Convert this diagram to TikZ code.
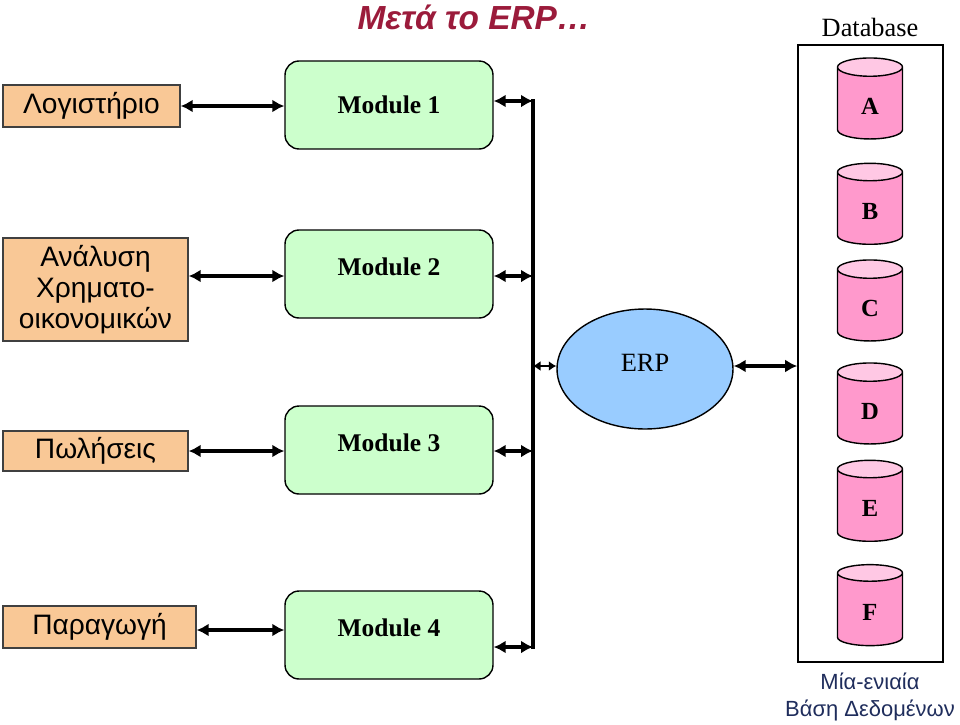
\documentclass[tikz,border=0pt]{standalone}
\usepackage{fontspec}
\setmainfont{Liberation Serif}
\newfontfamily\grk{Liberation Sans}
\usetikzlibrary{arrows.meta, positioning, shapes.geometric}
\definecolor{erptitle}{HTML}{9B1B3B}
\definecolor{erporange}{HTML}{F9C896}
\definecolor{erpgreen}{HTML}{CCFFCC}
\definecolor{erpblue}{HTML}{99CCFF}
\definecolor{erppink}{HTML}{FF99CC}
\definecolor{erplight}{HTML}{FFC8E4}
\definecolor{erpnavy}{HTML}{1F2D5C}

\begin{document}
\begin{tikzpicture}[x=0.02cm, y=-0.02cm,
  dept/.style={draw=black!75, fill=erporange, line width=0.8pt, align=center,
    inner sep=0pt, font=\grk\fontsize{16}{17.5}\selectfont},
  module/.style={draw, fill=erpgreen, rounded corners=0.28cm, line width=0.8pt,
    minimum width=4.16cm, minimum height=1.76cm, font=\bfseries\fontsize{14.5}{17}\selectfont},
  raised/.style={text depth=0.28cm},
  store/.style={cylinder, shape border rotate=90, aspect=0.62, draw, line width=0.8pt,
    minimum width=1.3cm, minimum height=1.62cm, cylinder uses custom fill,
    cylinder body fill=erppink, cylinder end fill=erplight,
    font=\bfseries\fontsize{14}{17}\selectfont},
  link/.style={{Latex[length=2.4mm,width=2.6mm]}-{Latex[length=2.4mm,width=2.6mm]}, line width=1.8pt},
  shortlink/.style={{Latex[length=1.5mm,width=2mm]}-{Latex[length=1.5mm,width=2mm]}, line width=1.4pt}]
  \useasboundingbox (0,0) rectangle (960,724);

  \node[font=\grk\bfseries\itshape\fontsize{19}{22}\selectfont, text=erptitle] (title) at (474,17) {Μετά το ERP…};

  \node[dept, minimum width=3.54cm, minimum height=0.84cm] (d1) at (91.5,106) {Λογιστήριο};
  \node[dept, minimum width=3.70cm, minimum height=2.06cm] (d2) at (95.5,289.5) {Ανάλυση\\Χρηματο-\\οικονομικών};
  \node[dept, minimum width=3.70cm, minimum height=0.80cm] (d3) at (95.5,451) {Πωλήσεις};
  \node[dept, minimum width=3.86cm, minimum height=0.84cm] (d4) at (99.5,627) {Παραγωγή};

  \node[module] (m1) at (389,105) {Module 1};
  \node[module, raised] (m2) at (389,274) {Module 2};
  \node[module, raised] (m3) at (389,450) {Module 3};
  \node[module, raised] (m4) at (389,635) {Module 4};

  \draw[link] (d1.east |- 0,106) -- (m1.west |- 0,106);
  \draw[link] (d2.east |- 0,276) -- (m2.west |- 0,276);
  \draw[link] (d3.east |- 0,451) -- (m3.west |- 0,451);
  \draw[link] (d4.east |- 0,630) -- (m4.west |- 0,630);

  \coordinate (bus1) at (533,101);
  \coordinate (bus2) at (533,276);
  \coordinate (bus0) at (533,366);
  \coordinate (bus3) at (533,451);
  \coordinate (bus4) at (533,647);
  \draw[line width=1.8pt, line cap=rect] (bus1) -- (bus4);
  \draw[link] (m1.east |- bus1) -- (bus1);
  \draw[link] (m2.east |- bus2) -- (bus2);
  \draw[link] (m3.east |- bus3) -- (bus3);
  \draw[link] (m4.east |- bus4) -- (bus4);

  \node[ellipse, draw, fill=erpblue, line width=0.8pt, minimum width=3.52cm, minimum height=2.4cm,
    text depth=0.24cm, font=\fontsize{15}{18}\selectfont] (erp) at (645,369) {ERP};
  \draw[shortlink] (bus0) -- (erp.west |- bus0);

  \node[draw, line width=0.9pt, minimum width=2.9cm, minimum height=12.34cm] (db) at (870.5,353.5) {};
  \node[font=\fontsize{15}{18}\selectfont] (dbtitle) at (870,27) {Database};
  \node[font=\grk\fontsize{12.5}{15.5}\selectfont, text=erpnavy, align=center] (dbnote) at (870,697) {Μία-ενιαία\\Βάση Δεδομένων};
  \draw[link] (erp.east |- bus0) -- (db.west |- bus0);

  \foreach \name/\y in {A/106, B/211, C/308, D/411, E/508, F/612}
    \node[store] (cyl\name) at (870,\y) {\name};
\end{tikzpicture}
\end{document}
